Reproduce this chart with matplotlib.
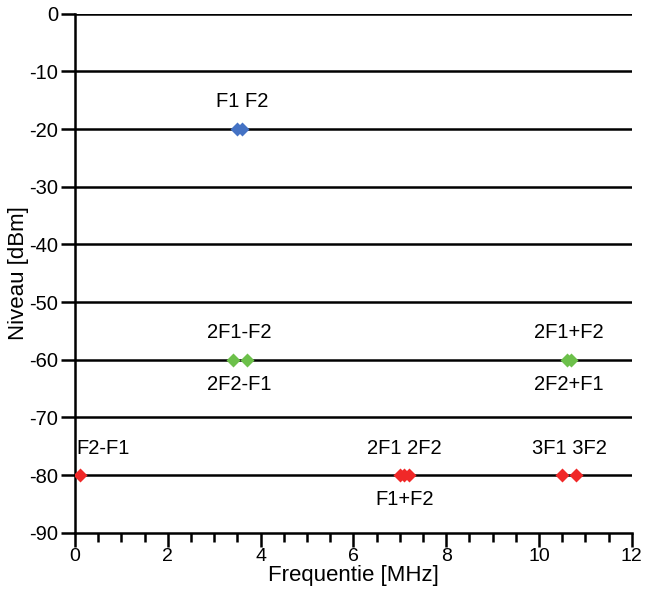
import matplotlib.pyplot as plt
import numpy as np

plt.rcParams['font.family'] = ['Liberation Sans', 'DejaVu Sans']
plt.rcParams['axes.unicode_minus'] = False

# frequencies [MHz] and levels [dBm]
f_base = [3.5, 3.6]
lvl_base = [-20, -20]
f_im3 = [3.4, 3.7, 10.6, 10.7]
lvl_im3 = [-60, -60, -60, -60]
f_im2 = [0.1, 7.0, 7.1, 7.2, 10.5, 10.8]
lvl_im2 = [-80, -80, -80, -80, -80, -80]

labels = ["F1 F2", "2F1-F2", "2F2-F1", "2F1+F2", "2F2+F1",
          "F2-F1", "2F1 2F2", "F1+F2", "3F1 3F2"]
label_x = [3.6, 3.55, 3.55, 10.65, 10.65, 0.6, 7.1, 7.1, 10.65]
label_y = [-15.2, -55.3, -64.2, -55.3, -64.2, -75.3, -75.3, -84.2, -75.3]

fig = plt.figure(figsize=(6.46, 5.98), dpi=100)
ax = fig.add_axes([0.116, 0.109, 0.862, 0.868])

for yv in range(-80, 1, 10):
    ax.axhline(yv, color='black', lw=1.8, zorder=1)

ax.plot(f_base, lvl_base, 'D', color='#4472C4', ms=7, mec='none', zorder=3)
ax.plot(f_im3, lvl_im3, 'D', color='#6CC04A', ms=7, mec='none', zorder=3)
ax.plot(f_im2, lvl_im2, 'D', color='#F02828', ms=7, mec='none', zorder=3)

for t, x, y in zip(labels, label_x, label_y):
    ax.text(x, y, t, ha='center', va='center', fontsize=14.5)

ax.set_xlim(0, 12)
ax.set_ylim(-90, 0)
ax.set_xticks(np.arange(0, 13, 2))
ax.set_xticks(np.arange(0, 12.01, 0.5), minor=True)
ax.set_yticks(np.arange(-90, 1, 10))
ax.tick_params(axis='y', which='major', direction='out', length=10, width=1.8, labelsize=14.5, pad=2)
ax.tick_params(axis='x', which='major', direction='out', length=10, width=1.8, labelsize=14, pad=1)
ax.tick_params(axis='x', which='minor', direction='out', length=6.5, width=1.8)
ax.tick_params(axis='y', which='minor', left=False)
for s in ['top', 'right']:
    ax.spines[s].set_visible(False)
for s in ['left', 'bottom']:
    ax.spines[s].set_linewidth(1.8)

ax.set_xlabel("Frequentie [MHz]", fontsize=16, labelpad=0)
ax.set_ylabel("Niveau [dBm]", fontsize=16, labelpad=0)

fig.savefig("out.png", dpi=100)
